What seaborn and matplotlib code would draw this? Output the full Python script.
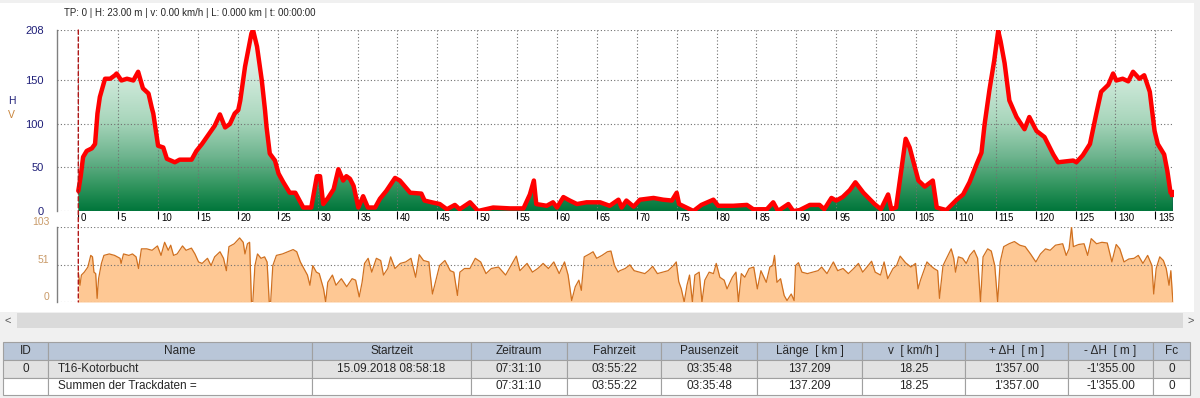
import numpy as np
import pandas as pd
import matplotlib
matplotlib.use('Agg')
import matplotlib.pyplot as plt
import seaborn as sns
from matplotlib.colors import LinearSegmentedColormap
from matplotlib.patches import Rectangle, ConnectionPatch

# ---- data ----
elev_km = [0, 0.3, 0.6, 1.05, 1.7, 2.1, 2.4, 2.7, 3.35, 4.0, 4.6, 4.8, 5.4, 6.1,
           6.9, 7.5, 8.1, 8.8, 9.2, 9.4, 10.0, 10.65, 11.1, 12.1, 12.7, 14.2,
           14.8, 15.5, 16.5, 17.1, 17.75, 18.4, 19.0, 19.6, 20.05, 20.3, 20.9,
           21.3, 21.7, 21.9, 22.4, 23.0, 23.4, 23.6, 24.0, 24.65, 25.1, 25.7,
           26.5, 27.2, 28.2, 29.2, 29.9, 30.3, 30.7, 31.3, 32.0, 32.6, 33.2,
           33.6, 34.05, 34.5, 35.1, 35.7, 36.3, 37.2, 37.8, 38.6, 39.7, 40.3,
           41.6, 43.0, 43.4, 44.3, 45.3, 46.2, 47.2, 47.8, 49.1, 50.1, 52.0,
           54.1, 55.8, 56.6, 57.1, 57.4, 58.7, 59.5, 60.0, 60.8, 61.6, 62.5,
           63.7, 65.4, 66.6, 67.7, 68.1, 68.7, 69.6, 70.4, 72.1, 73.3, 74.4,
           75.0, 75.3, 77.1, 78.1, 79.6, 80.2, 82.1, 83.8, 84.6, 86.3, 87.1,
           87.7, 89.0, 89.6, 90.4, 91.7, 92.9, 93.5, 94.4, 95.0, 95.8, 96.7,
           97.4, 98.4, 99.8, 100.6, 101.5, 101.9, 102.5, 103.2, 103.7, 104.2,
           105.3, 106.1, 107.1, 107.6, 108.8, 110.1, 110.9, 111.7, 112.6,
           113.2, 113.6, 114.2, 114.8, 115.3, 115.6, 116.1, 116.7, 117.6,
           118.6, 119.2, 120.1, 121.1, 122.2, 122.8, 124.7, 125.1, 125.9,
           126.8, 127.6, 128.2, 129.1, 129.7, 130.1, 130.9, 131.6, 132.2,
           133.0, 133.6, 134.3, 134.9, 135.3, 136.1, 136.5, 136.9, 137.209]
elev_m = [23, 40, 62, 69, 72, 77, 112, 131, 152, 152, 156, 158, 150, 152, 150,
          160, 141, 135, 119, 112, 75, 73, 60, 56, 59, 59, 69, 77, 90, 98, 111,
          96, 100, 112, 116, 127, 166, 185, 204, 208, 189, 150, 116, 96, 66, 58,
          43, 33, 21, 21, 4, 4, 40, 40, 8, 15, 25, 48, 35, 40, 37, 29, 4, 17, 4,
          4, 14, 23, 38, 35, 21, 20, 12, 10, 8, 2, 7, 2, 10, 0, 4, 3, 3, 19, 35,
          8, 6, 10, 4, 16, 12, 8, 10, 10, 6, 13, 4, 12, 5, 13, 15, 13, 12, 21, 8,
          0, 7, 13, 6, 6, 7, 2, 2, 10, 0, 8, 0, 1, 7, 7, 2, 15, 12, 16, 24, 33,
          21, 8, 2, 19, 2, 4, 50, 83, 73, 35, 28, 35, 4, 1, 13, 19, 33, 54, 67,
          100, 139, 173, 207, 195, 170, 127, 108, 94, 108, 92, 85, 65, 56, 58,
          56, 64, 77, 112, 137, 145, 158, 150, 152, 149, 160, 152, 156, 137, 92,
          77, 65, 46, 21, 21]

speed_km = [0.0, 0.21, 0.39, 0.75, 1.2, 1.56, 1.78, 1.96, 2.18, 2.36, 2.54,
            2.9, 3.21, 3.88, 4.55, 5.23, 5.36, 5.67, 6.34, 6.79, 7.24, 7.55,
            7.91, 8.58, 9.25, 9.92, 10.37, 10.82, 11.27, 11.58, 11.94, 12.39,
            13.06, 13.51, 14.18, 14.62, 15.07, 15.52, 16.19, 16.64, 17.09,
            17.76, 18.2, 18.56, 18.88, 19.55, 20.22, 20.67, 20.89, 21.2, 21.47,
            21.7, 21.87, 22.14, 22.46, 22.9, 23.35, 23.66, 23.93, 24.11, 24.38,
            24.83, 25.59, 26.26, 26.93, 27.38, 27.83, 28.27, 28.72, 29.03,
            29.39, 29.84, 30.2, 30.74, 31.0, 31.27, 31.85, 32.3, 32.97, 33.64,
            34.32, 34.76, 35.21, 35.57, 35.88, 36.33, 36.78, 37.36, 37.9,
            38.25, 38.79, 39.15, 39.69, 40.36, 41.03, 41.7, 42.28, 42.73,
            43.27, 43.94, 44.39, 44.83, 45.28, 45.95, 46.62, 47.07, 47.52,
            47.83, 48.41, 49.09, 49.76, 50.43, 51.1, 51.77, 52.67, 53.56,
            54.23, 54.9, 55.35, 56.25, 56.92, 57.59, 58.26, 58.93, 59.6, 60.27,
            60.94, 61.39, 61.84, 62.29, 62.74, 63.05, 63.41, 64.08, 64.52,
            64.97, 65.64, 66.32, 66.76, 67.21, 67.66, 67.88, 68.55, 69.13,
            69.67, 70.34, 71.01, 71.46, 71.99, 72.58, 73.25, 73.92, 74.59,
            74.95, 75.26, 75.58, 75.94, 76.29, 76.61, 76.97, 77.28, 77.82,
            78.17, 78.53, 79.07, 79.61, 79.96, 80.41, 80.95, 81.31, 81.98,
            82.43, 82.74, 83.1, 83.54, 84.08, 84.66, 85.11, 85.56, 86.23,
            86.68, 87.04, 87.26, 87.57, 88.02, 88.47, 88.83, 89.36, 89.72,
            89.9, 90.26, 90.7, 91.38, 92.05, 92.72, 93.17, 93.84, 94.64,
            95.18, 95.85, 96.52, 97.19, 97.78, 98.31, 98.85, 99.43, 99.88,
            100.55, 101.0, 101.45, 102.12, 102.56, 103.01, 103.68, 104.36,
            104.94, 105.25, 105.56, 105.92, 106.37, 106.82, 107.26, 107.71,
            107.94, 108.38, 108.83, 109.41, 109.73, 109.95, 110.31, 110.84,
            111.29, 111.74, 112.28, 112.72, 113.08, 113.4, 113.98, 114.43,
            114.87, 115.23, 115.55, 115.99, 116.66, 117.33, 118.01, 118.68,
            119.35, 120.02, 120.6, 121.23, 121.81, 122.48, 123.38, 123.82,
            124.18, 124.49, 124.72, 125.39, 126.06, 126.51, 126.96, 127.63,
            128.3, 128.97, 129.55, 130.09, 130.54, 131.07, 131.66, 132.33,
            132.86, 133.44, 134.03, 134.57, 134.79, 135.1, 135.55, 136.0,
            136.36, 136.71, 136.94, 137.11, 137.209]
speed_kmh = [41, 23, 37, 41, 48, 64, 62, 41, 39, 5, 32, 53, 64, 66, 64, 60, 53,
             66, 64, 66, 62, 46, 73, 73, 71, 77, 64, 82, 71, 78, 64, 66, 77, 71,
             74, 66, 55, 53, 60, 50, 62, 69, 60, 43, 76, 80, 88, 82, 66, 80, 82,
             0, 0, 50, 66, 60, 62, 55, 0, 0, 50, 64, 66, 69, 72, 69, 55, 46, 37,
             23, 50, 41, 39, 18, 0, 27, 37, 23, 32, 21, 32, 30, 7, 27, 53, 60,
             41, 60, 57, 37, 46, 62, 46, 53, 55, 60, 34, 65, 57, 55, 11, 30, 50,
             57, 43, 41, 9, 41, 46, 46, 60, 55, 39, 46, 48, 37, 50, 63, 43, 53,
             41, 46, 53, 46, 55, 39, 55, 37, 2, 21, 30, 16, 62, 66, 69, 60, 64,
             69, 70, 50, 41, 43, 46, 51, 43, 41, 39, 43, 49, 39, 41, 43, 50, 55,
             28, 18, 0, 23, 37, 0, 37, 41, 0, 30, 41, 39, 53, 34, 30, 18, 34, 41,
             0, 39, 34, 46, 48, 18, 43, 27, 48, 50, 64, 27, 32, 9, 2, 11, 2, 50,
             54, 41, 39, 41, 43, 48, 39, 55, 43, 46, 39, 46, 53, 41, 48, 56, 41,
             37, 55, 32, 46, 50, 63, 54, 48, 53, 18, 30, 41, 55, 50, 46, 43, 5,
             50, 60, 73, 60, 41, 62, 60, 53, 64, 71, 60, 0, 62, 73, 70, 50, 0,
             55, 76, 80, 83, 78, 76, 66, 55, 66, 73, 71, 78, 80, 64, 73, 103, 76,
             79, 80, 64, 87, 80, 82, 81, 55, 79, 73, 55, 59, 60, 64, 53, 64, 50,
             11, 46, 62, 57, 46, 23, 43, 14, 0]

km_ticks = list(range(0, 136, 5))
elev_ticks = [0, 50, 100, 150, 208]
speed_ticks = [0, 51, 103]

info_text = 'TP: 0 | H: 23.00 m | v: 0.00 km/h | L: 0.000 km | t: 00:00:00'
col_names = ['ID', 'Name', 'Startzeit', 'Zeitraum', 'Fahrzeit', 'Pausenzeit',
             'Länge  [ km ]', 'v  [ km/h ]', '+ ΔH  [ m ]', '- ΔH  [ m ]', 'Fc']
row_track = ['0', 'T16-Kotorbucht', '15.09.2018 08:58:18', '07:31:10',
             '03:55:22', '03:35:48', '137.209', '18.25', "1'357.00",
             "-1'355.00", '0']
row_sum = ['', 'Summen der Trackdaten =', '', '07:31:10', '03:55:22',
           '03:35:48', '137.209', '18.25', "1'357.00", "-1'355.00", '0']

# ---- style ----
sns.set_style('white')
plt.rcParams['font.family'] = ['Liberation Sans', 'DejaVu Sans']
narrow = ['Liberation Sans Narrow', 'Liberation Sans', 'DejaVu Sans']
navy = '#1f1f78'
tan = '#c99a68'
grid_kw = dict(color='#707070', linestyle=(0, (1, 2)), linewidth=0.8)

# ---- layout (pixels) ----
W, H = 1200, 398
plot_l, plot_r = 57, 1173
km_left = -2.67


def frac(left, top, right, bottom):
    return [left / W, 1 - bottom / H, (right - left) / W, (bottom - top) / H]


fig = plt.figure(figsize=(W / 100, H / 100), dpi=100, facecolor='#f0f0f0')

# pixel overlay for window chrome and table
bg = fig.add_axes([0, 0, 1, 1], zorder=0)
bg.set_xlim(0, W)
bg.set_ylim(H, 0)
bg.axis('off')
bg.add_patch(Rectangle((0, 3), 1194, 309, color='white', lw=0))

ax1 = fig.add_axes(frac(plot_l, 30, plot_r, 211), zorder=2)
ax2 = fig.add_axes(frac(plot_l, 227, plot_r, 302), zorder=2)

# ---- elevation ----
df_h = pd.DataFrame({'km': elev_km, 'h': elev_m})
fill = ax1.fill_between(df_h['km'], df_h['h'], 0, color='none', lw=0)
greens = LinearSegmentedColormap.from_list(
    'grn', [(0.0, '#00763b'), (0.12, '#2a9159'), (0.3, '#6db48e'),
            (0.5, '#a9d6bc'), (0.75, '#d2ebdd'), (1.0, '#f1f9f5')])
grad = ax1.imshow(np.linspace(0, 1, 256)[:, None], cmap=greens,
                  origin='lower', aspect='auto', interpolation='bilinear',
                  extent=[df_h['km'].min(), df_h['km'].max(), 0,
                          max(elev_ticks)], zorder=1)
grad.set_clip_path(fill.get_paths()[0], transform=ax1.transData)
sns.lineplot(data=df_h, x='km', y='h', ax=ax1, color='#ff0000', lw=3.2,
             estimator=None, sort=False, zorder=4)
ax1.plot(df_h['km'].iloc[-1], df_h['h'].iloc[-1], 's', color='#ff0000',
         ms=5, zorder=5)
ax1.vlines(df_h['km'].iloc[-1], 0, df_h['h'].iloc[-1], color='#1b2a5a',
           lw=1, zorder=3)

ax1.set_xlim(km_left, df_h['km'].max())
ax1.set_ylim(0, max(elev_ticks))
ax1.set_xticks(km_ticks)
ax1.set_yticks(elev_ticks)
ax1.set_axisbelow(False)
ax1.grid(True, **grid_kw)
ax1.set_xlabel('')
ax1.set_ylabel('')
ax1.patch.set_alpha(0)
ax1.tick_params(axis='x', bottom=True, direction='out', length=6, width=0.8,
                color='black', labelbottom=False)
ax1.tick_params(axis='y', left=False, labelsize=8, labelcolor=navy, pad=6)
for k in km_ticks:
    ax1.annotate(str(k), xy=(k, 0), xycoords=('data', 'axes fraction'),
                 xytext=(2, -1.5), textcoords='offset points', ha='left',
                 va='top', fontsize=7, family=narrow, color='black')

# ---- speed ----
df_v = pd.DataFrame({'km': speed_km, 'v': speed_kmh})
ax2.fill_between(df_v['km'], df_v['v'], 0, color='#fec894', lw=0, zorder=1)
sns.lineplot(data=df_v, x='km', y='v', ax=ax2, color='#d0701f', lw=0.9,
             estimator=None, sort=False, zorder=3)
ax2.set_xlim(km_left, df_h['km'].max())
ax2.set_ylim(0, max(speed_ticks))
ax2.set_xticks([])
ax2.set_yticks(speed_ticks)
ax2.set_axisbelow(False)
ax2.grid(True, axis='y', **grid_kw)
ax2.set_xlabel('')
ax2.set_ylabel('')
ax2.patch.set_alpha(0)
ax2.tick_params(axis='y', left=False, labelsize=7.5, labelcolor=tan, pad=2)
for lab in ax2.get_yticklabels():
    lab.set_va('bottom')

for ax in (ax1, ax2):
    for s in ('top', 'right', 'bottom'):
        ax.spines[s].set_visible(False)
    ax.spines['left'].set_color('#808080')
    ax.spines['left'].set_linewidth(1)

# cursor at track point 0
cursor = ConnectionPatch(xyA=(elev_km[0], max(elev_ticks)), coordsA=ax1.transData,
                         xyB=(elev_km[0], 0), coordsB=ax2.transData,
                         color='#b01818', lw=1, linestyle=(0, (3, 2)), zorder=6)
fig.add_artist(cursor)

# labels
bg.text(64, 13, info_text, va='center', ha='left', fontsize=7, family=narrow)
bg.text(8, 101, 'H', va='center', ha='left', fontsize=7.5, color=navy)
bg.text(8, 115, 'V', va='center', ha='left', fontsize=7.5, color='#c8843c')

# scrollbar
bg.add_patch(Rectangle((0, 313), W, 15, color='#dadada', lw=0))
bg.add_patch(Rectangle((0, 313), 17, 15, color='#f0f0f0', lw=0))
bg.add_patch(Rectangle((1183, 313), 17, 15, color='#f0f0f0', lw=0))
bg.text(8, 320.5, '<', ha='center', va='center', fontsize=8, color='#555555')
bg.text(1191, 320.5, '>', ha='center', va='center', fontsize=8, color='#555555')

# ---- table ----
col_edges = [3, 48, 312, 471, 567, 661, 757, 862, 965, 1068, 1153, 1190]
row_edges = [342, 360, 377.5, 395]
row_fills = ['#b9c6d8', '#e2e2e2', 'white']
for r, (cells, fc) in enumerate(zip([col_names, row_track, row_sum], row_fills)):
    y0, y1 = row_edges[r], row_edges[r + 1]
    for c, txt in enumerate(cells):
        x0, x1 = col_edges[c], col_edges[c + 1]
        bg.add_patch(Rectangle((x0, y0), x1 - x0, y1 - y0, facecolor=fc,
                               edgecolor='#a0a0a0', lw=0.8))
        if c == 1 and r > 0:
            bg.text(x0 + 10, (y0 + y1) / 2, txt, ha='left', va='center',
                    fontsize=8.5, family=narrow)
        else:
            bg.text((x0 + x1) / 2, (y0 + y1) / 2, txt, ha='center',
                    va='center', fontsize=8.5, family=narrow)

fig.savefig('out.png', dpi=100, facecolor=fig.get_facecolor())
